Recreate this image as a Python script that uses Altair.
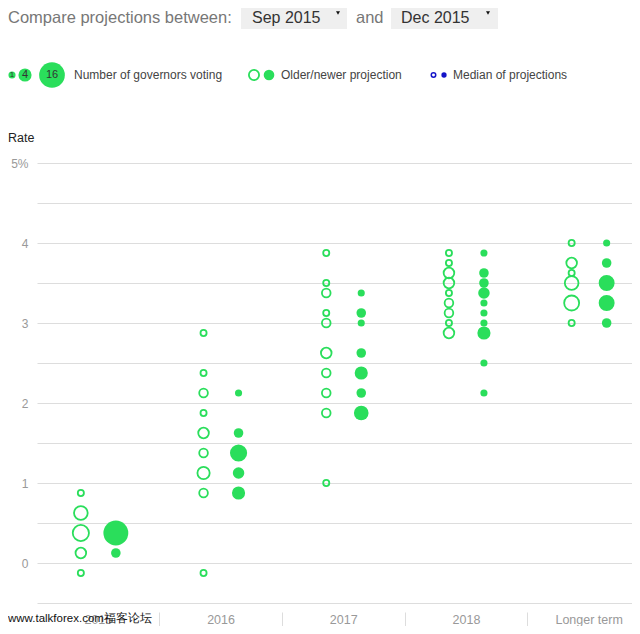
import altair as alt
import pandas as pd

FONT = "Liberation Sans"
GREEN = "#2ade5b"
BLUE = "#1414c8"

periods = ["2015", "2016", "2017", "2018", "Longer term"]
projections = ["Older", "Newer"]
y_ticks = [-0.5, 0.0, 0.5, 1.0, 1.5, 2.0, 2.5, 3.0, 3.5, 4.0, 4.5, 5.0]

# Older projection (Sep 2015)
sep_2015_rates = [0.875, 0.625, 0.375, 0.125, -0.125]
sep_2015_counts = [1, 5, 7, 3, 1]
sep_2016_rates = [2.875, 2.375, 2.125, 1.875, 1.625, 1.375, 1.125, 0.875, -0.125]
sep_2016_counts = [1, 1, 2, 1, 3, 2, 4, 2, 1]
sep_2017_rates = [3.875, 3.5, 3.375, 3.125, 3.0, 2.625, 2.375, 2.125, 1.875, 1.0]
sep_2017_counts = [1, 1, 2, 1, 2, 3, 2, 2, 2, 1]
sep_2018_rates = [3.875, 3.75, 3.625, 3.5, 3.375, 3.25, 3.125, 3.0, 2.875]
sep_2018_counts = [1, 1, 3, 3, 1, 2, 2, 1, 3]
sep_long_rates = [4.0, 3.75, 3.625, 3.5, 3.25, 3.0]
sep_long_counts = [1, 3, 1, 5, 6, 1]

# Newer projection (Dec 2015)
dec_2015_rates = [0.375, 0.125]
dec_2015_counts = [15, 2]
dec_2016_rates = [2.125, 1.625, 1.375, 1.125, 0.875]
dec_2016_counts = [1, 2, 7, 3, 4]
dec_2017_rates = [3.375, 3.125, 3.0, 2.625, 2.375, 2.125, 1.875]
dec_2017_counts = [1, 2, 1, 2, 4, 2, 5]
dec_2018_rates = [3.875, 3.625, 3.5, 3.375, 3.25, 3.125, 3.0, 2.875, 2.5, 2.125]
dec_2018_counts = [1, 2, 2, 3, 1, 1, 1, 4, 1, 1]
dec_long_rates = [4.0, 3.75, 3.5, 3.25, 3.0]
dec_long_counts = [1, 2, 6, 6, 2]

older = {
    "2015": (sep_2015_rates, sep_2015_counts),
    "2016": (sep_2016_rates, sep_2016_counts),
    "2017": (sep_2017_rates, sep_2017_counts),
    "2018": (sep_2018_rates, sep_2018_counts),
    "Longer term": (sep_long_rates, sep_long_counts),
}
newer = {
    "2015": (dec_2015_rates, dec_2015_counts),
    "2016": (dec_2016_rates, dec_2016_counts),
    "2017": (dec_2017_rates, dec_2017_counts),
    "2018": (dec_2018_rates, dec_2018_counts),
    "Longer term": (dec_long_rates, dec_long_counts),
}

rows = []
for proj, table in (("Older", older), ("Newer", newer)):
    for p in periods:
        rates, counts = table[p]
        for r, c in zip(rates, counts):
            rows.append({"period": p, "proj": proj, "rate": r, "count": c})
df = pd.DataFrame(rows)

x_enc = alt.X(
    "period:N",
    sort=periods,
    scale=alt.Scale(domain=periods, range=[0, 613.5], paddingInner=0, paddingOuter=0),
    axis=alt.Axis(
        title=None, labelAngle=0, domain=False, grid=False, ticks=True,
        tickSize=20, bandPosition=0, offset=9,
        tickColor={"condition": {"test": "datum.value === '2015'", "value": "transparent"}, "value": "#dddddd"},
        labelPadding=-13, labelBaseline="middle", labelColor="#999999",
        labelFontSize=12.5, labelFont=FONT,
    ),
)
xo_enc = alt.XOffset(
    "proj:N",
    scale=alt.Scale(type="band", domain=projections, paddingOuter=1, paddingInner=0.494),
)
y_enc = alt.Y(
    "rate:Q",
    scale=alt.Scale(domain=[-0.5, 5], nice=False, zero=False),
    axis=alt.Axis(
        title=None, values=y_ticks, grid=True, gridColor="#dddddd", ticks=False,
        domain=False, labelColor="#999999", labelFontSize=12, labelFont=FONT,
        labelPadding=9,
        labelExpr="datum.value % 1 == 0 ? (datum.value == 5 ? '5%' : format(datum.value, 'd')) : ''",
    ),
)

old_layer = alt.Chart(df).transform_filter("datum.proj == 'Older'").mark_point(
    shape="circle", filled=False, color=GREEN, strokeWidth=1.8, opacity=1
).encode(
    x=x_enc, xOffset=xo_enc, y=y_enc,
    size=alt.Size("count:Q", scale=alt.Scale(domain=[0, 16], range=[0, 600]), legend=None),
)
new_layer = alt.Chart(df).transform_filter("datum.proj == 'Newer'").mark_circle(
    color=GREEN, opacity=1
).encode(
    x=x_enc, xOffset=xo_enc, y=y_enc,
    size=alt.Size("count:Q", scale=alt.Scale(domain=[0, 16], range=[10, 660]), legend=None),
)

one = alt.Data(values=[{}])


def txt(s, x, y, size=12, color="#444444", align="left", weight="normal"):
    return alt.Chart(one).mark_text(
        text=s, align=align, baseline="middle", fontSize=size, color=color,
        font=FONT, fontWeight=weight
    ).encode(x=alt.value(x), y=alt.value(y))


def box(x1, x2, y1, y2, color):
    return alt.Chart(one).mark_rect(color=color).encode(
        x=alt.value(x1), x2=alt.value(x2), y=alt.value(y1), y2=alt.value(y2)
    )


def dot(x, y, size, color, filled=True, sw=1.8):
    if filled:
        m = alt.Chart(one).mark_circle(color=color, opacity=1, size=size)
    else:
        m = alt.Chart(one).mark_point(shape="circle", filled=False, color=color,
                                      strokeWidth=sw, opacity=1, size=size)
    return m.encode(x=alt.value(x), y=alt.value(y))


def tri(x, y):
    return alt.Chart(one).mark_point(shape="triangle-down", filled=True, color="#111111",
                                     opacity=1, size=16).encode(x=alt.value(x), y=alt.value(y))


HY = -145
LY = -88
deco = [
    box(204, 310, -163, -134, "#efefef"),
    box(354, 461, -163, -134, "#efefef"),
    txt("Compare projections between:", -29, HY, 16.5, "#777777"),
    txt("Sep 2015", 215, HY, 16, "#333333"),
    tri(301, -150),
    txt("and", 319, HY, 16.5, "#777777"),
    txt("Dec 2015", 364, HY, 16, "#333333"),
    tri(451, -150),
    dot(-25, LY, 50, GREEN),
    dot(-12, LY, 172, GREEN),
    dot(15, LY, 660, GREEN),
    txt("1", -25, LY, 8, "#333333", "center"),
    txt("4", -12, LY, 11, "#333333", "center"),
    txt("16", 15, LY, 11, "#333333", "center"),
    txt("Number of governors voting", 37, LY, 12, "#444444"),
    dot(217, LY, 104, GREEN, filled=False),
    dot(232, LY, 113, GREEN),
    txt("Older/newer projection", 244, LY, 12, "#444444"),
    dot(396.5, LY, 20, BLUE, filled=False, sw=1.5),
    dot(407, LY, 28, BLUE),
    txt("Median of projections", 416, LY, 12, "#444444"),
    txt("Rate", -29, -25, 12.5, "#222222"),
]

watermark = txt("www.talkforex.com福客论坛", -29, 456, 11.5, "#111111")

chart = alt.layer(*deco, old_layer, new_layer, watermark).resolve_scale(
    size="independent"
).properties(
    width=595, height=440,
    padding={"left": 29, "top": 155, "right": 0, "bottom": 23},
    autosize=alt.AutoSizeParams(type="none"),
    background="white",
).configure_view(stroke="transparent")

chart.save("out.html", embed_options={"renderer": "svg", "actions": False})
